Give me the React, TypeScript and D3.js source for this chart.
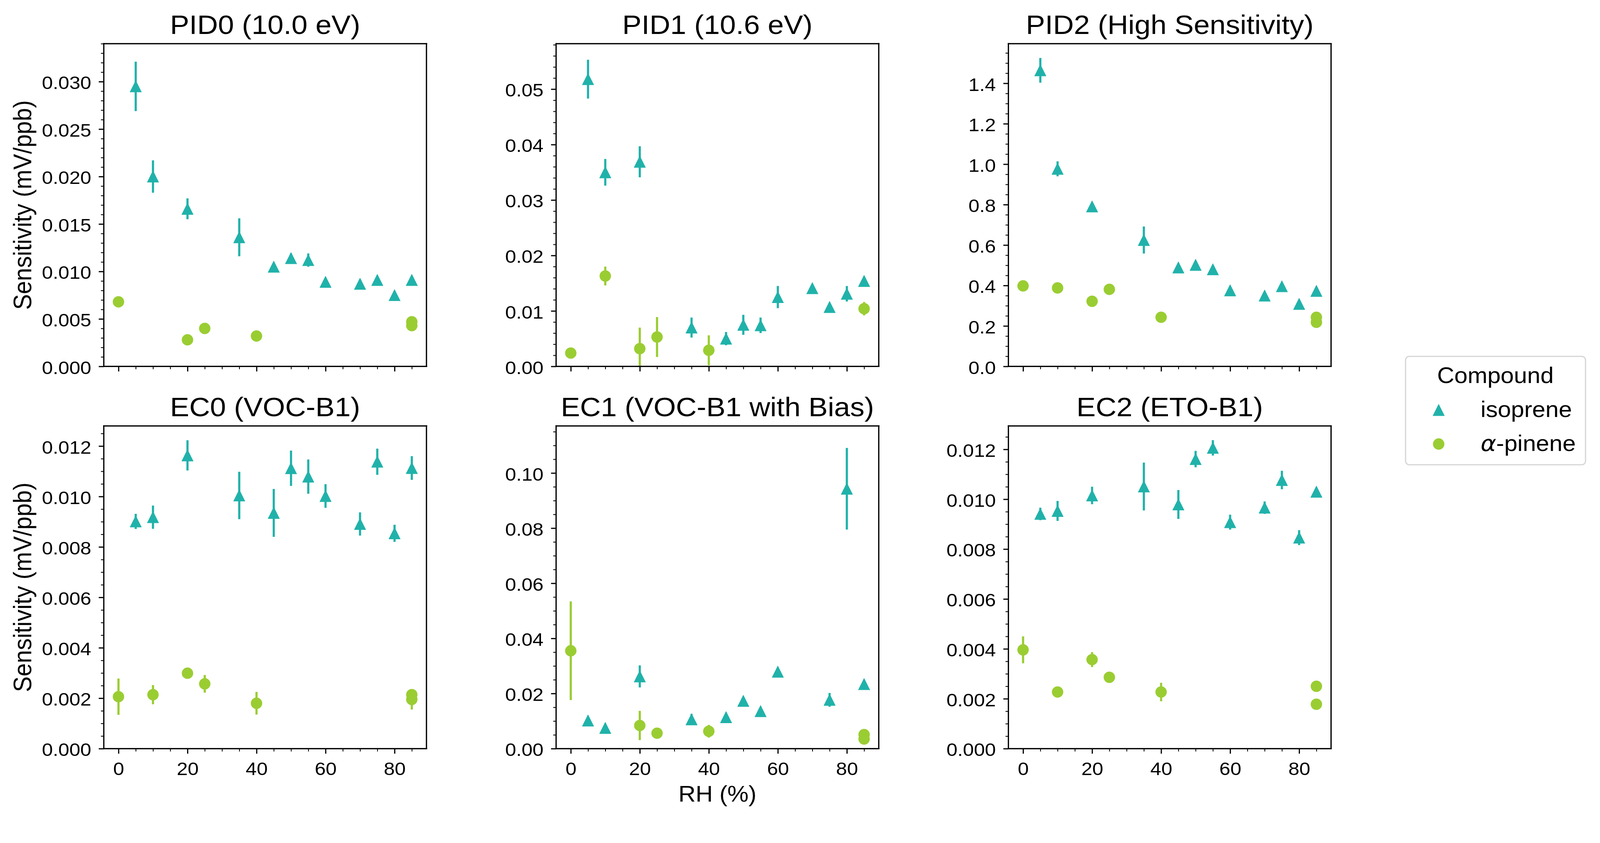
import React, { useEffect, useRef } from 'react';
import * as d3 from 'd3';

// the reference text is a little wider than Liberation Sans, so draw in a
// narrower coordinate space and let the viewBox widen it; marks are corrected back
const SX = 1.08;
const W = 4205;
const H = 2159;

const panelTitles = [
  'PID0 (10.0 eV)',
  'PID1 (10.6 eV)',
  'PID2 (High Sensitivity)',
  'EC0 (VOC-B1)',
  'EC1 (VOC-B1 with Bias)',
  'EC2 (ETO-B1)',
];
const yMax = [0.034, 0.0582, 1.596, 0.0128, 0.1171, 0.01294];
const yStep = [0.005, 0.01, 0.2, 0.002, 0.02, 0.002];
const yMinorDiv = [5, 5, 4, 4, 4, 4];
const yDecimals = [3, 2, 1, 3, 2, 3];
const xTicks = [0, 20, 40, 60, 80];
const xMinor = [5, 10, 15, 25, 30, 35, 45, 50, 55, 65, 70, 75, 85];

// RH (%) of each measurement
const rhIso = [5, 10, 20, 35, 45, 50, 55, 60, 70, 75, 80, 85];
const rhIsoEC1 = [5, 10, 20, 35, 45, 50, 55, 60, 75, 80, 85];
const rhPinPID0 = [0, 20, 25, 40, 85, 85];
const rhPinPID1 = [0, 10, 20, 25, 40, 85];
const rhPin = [0, 10, 20, 25, 40, 85, 85];
const rhPinEC1 = [0, 20, 25, 40, 85, 85];

// isoprene
const pid0Iso = [0.0295, 0.02, 0.0166, 0.0136, 0.0105, 0.0114, 0.0112, 0.0089, 0.0087, 0.0091, 0.0075, 0.0091];
const pid0IsoErr = [0.0026, 0.0017, 0.0011, 0.002, 0.0003, 0.0005, 0.0007, 0.0003, 0.0003, 0.0003, 0.0003, 0.0004];
const pid1Iso = [0.0518, 0.035, 0.0369, 0.007, 0.005, 0.0075, 0.0074, 0.0125, 0.0141, 0.0107, 0.0131, 0.0154];
const pid1IsoErr = [0.0035, 0.0024, 0.0028, 0.0018, 0.0012, 0.0018, 0.0014, 0.002, 0.0004, 0.0006, 0.0014, 0.0004];
const pid2Iso = [1.464, 0.977, 0.791, 0.625, 0.489, 0.502, 0.48, 0.376, 0.35, 0.396, 0.309, 0.373];
const pid2IsoErr = [0.061, 0.037, 0.01, 0.067, 0.01, 0.01, 0.01, 0.01, 0.01, 0.01, 0.01, 0.01];
const ec0Iso = [0.00901, 0.00918, 0.01163, 0.01004, 0.00935, 0.01112, 0.01079, 0.01002, 0.00891, 0.01138, 0.00854, 0.01113];
const ec0IsoErr = [0.0003, 0.00046, 0.0006, 0.00094, 0.00095, 0.0007, 0.00068, 0.00047, 0.00046, 0.00052, 0.00034, 0.00047];
const ec1Iso = [0.0102, 0.0075, 0.0262, 0.0106, 0.0114, 0.0173, 0.0136, 0.0279, 0.0177, 0.0943, 0.0234];
const ec1IsoErr = [0.0008, 0.0005, 0.004, 0.002, 0.0005, 0.0005, 0.0005, 0.0015, 0.0025, 0.0148, 0.0015];
const ec2Iso = [0.00941, 0.00953, 0.01015, 0.01051, 0.00979, 0.01161, 0.01206, 0.00908, 0.00966, 0.01077, 0.00846, 0.0103];
const ec2IsoErr = [0.00025, 0.0004, 0.00035, 0.00096, 0.00058, 0.00033, 0.00031, 0.0003, 0.00025, 0.00037, 0.0003, 0.0001];

// alpha-pinene
const pid0Pin = [0.0068, 0.0028, 0.004, 0.0032, 0.0047, 0.0043];
const pid0PinErr = [0.0002, 0.0002, 0.0002, 0.0002, 0.0002, 0.0002];
const pid1Pin = [0.0024, 0.0163, 0.0032, 0.0053, 0.0029, 0.0104];
const pid1PinErr = [0.0002, 0.0017, 0.0038, 0.0036, 0.0027, 0.0012];
const pid2Pin = [0.398, 0.388, 0.322, 0.381, 0.243, 0.243, 0.218];
const pid2PinErr = [0.01, 0.01, 0.01, 0.01, 0.01, 0.01, 0.01];
const ec0Pin = [0.00206, 0.00214, 0.00299, 0.00257, 0.0018, 0.00214, 0.00195];
const ec0PinErr = [0.00072, 0.00038, 0.0001, 0.00035, 0.00045, 0.0002, 0.0004];
const ec1Pin = [0.0355, 0.0084, 0.0056, 0.0063, 0.0051, 0.0035];
const ec1PinErr = [0.0179, 0.0053, 0.0005, 0.0023, 0.0005, 0.0005];
const ec2Pin = [0.00396, 0.00227, 0.00357, 0.00286, 0.00227, 0.0025, 0.00178];
const ec2PinErr = [0.00054, 0.0001, 0.0003, 0.0001, 0.00037, 0.0001, 0.0002];

const ISO_COLOR = '#20b2aa';
const PIN_COLOR = '#9acd32';

type Series = { x: number[]; y: number[]; e: number[] };
const panels: { iso: Series; pin: Series }[] = [
  { iso: { x: rhIso, y: pid0Iso, e: pid0IsoErr }, pin: { x: rhPinPID0, y: pid0Pin, e: pid0PinErr } },
  { iso: { x: rhIso, y: pid1Iso, e: pid1IsoErr }, pin: { x: rhPinPID1, y: pid1Pin, e: pid1PinErr } },
  { iso: { x: rhIso, y: pid2Iso, e: pid2IsoErr }, pin: { x: rhPin, y: pid2Pin, e: pid2PinErr } },
  { iso: { x: rhIso, y: ec0Iso, e: ec0IsoErr }, pin: { x: rhPin, y: ec0Pin, e: ec0PinErr } },
  { iso: { x: rhIsoEC1, y: ec1Iso, e: ec1IsoErr }, pin: { x: rhPinEC1, y: ec1Pin, e: ec1PinErr } },
  { iso: { x: rhIso, y: ec2Iso, e: ec2IsoErr }, pin: { x: rhPin, y: ec2Pin, e: ec2PinErr } },
];

const FONT = '"Liberation Sans", Arial, Helvetica, sans-serif';
const MS = 30; // marker size in output pixels, both ways
const mw = MS / 2 / SX;
const mh = MS / 2;
const triPath = `M0,${-mh}L${mw},${mh}L${-mw},${mh}Z`;

const App: React.FC = () => {
  const chartRef = useRef<SVGSVGElement | null>(null);

  useEffect(() => {
    if (!chartRef.current) return;
    const svg = d3.select(chartRef.current);
    svg.selectAll('*').remove();

    const pw = 848 / SX;
    const ph = 848.5;
    const lefts = [272.8, 1461.5, 2650.2].map(v => v / SX);
    const tops = [114.8, 1119.8];
    const defs = svg.append('defs');

    panels.forEach((p, i) => {
      const col = i % 3;
      const row = Math.floor(i / 3);
      const g = svg.append('g').attr('transform', `translate(${lefts[col]},${tops[row]})`);

      const x = d3.scaleLinear().domain([-4.25, 89.25]).range([0, pw]);
      const y = d3.scaleLinear().domain([0, yMax[i]]).range([ph, 0]);

      const nMaj = Math.floor(yMax[i] / yStep[i] + 1e-9);
      const yMajor = d3.range(nMaj + 1).map(k => k * yStep[i]);
      const minStep = yStep[i] / yMinorDiv[i];
      const nMin = Math.floor(yMax[i] / minStep + 1e-9);
      const yMinorVals = d3.range(nMin + 1).filter(k => k % yMinorDiv[i] !== 0).map(k => k * minStep);

      const fmt = d3.format(`.${yDecimals[i]}f`);

      // y axis
      g.append('g')
        .call(d3.axisLeft(y).tickValues(yMajor).tickSize(13.3 / SX).tickPadding(30.6 - 13.3 / SX)
          .tickFormat(d => fmt(d as number)))
        .call(a => a.select('.domain').remove())
        .call(a => a.selectAll('line').attr('stroke', '#000').attr('stroke-width', 3.1))
        .call(a => a.selectAll('text').attr('font-size', 48).attr('font-family', FONT).attr('fill', '#000').attr('dy', '0.40em'));
      g.append('g')
        .call(d3.axisLeft(y).tickValues(yMinorVals).tickSize(7.5 / SX).tickFormat(() => ''))
        .call(a => a.select('.domain').remove())
        .call(a => a.selectAll('line').attr('stroke', '#000').attr('stroke-width', 2.2));

      // x axis
      g.append('g')
        .attr('transform', `translate(0,${ph})`)
        .call(d3.axisBottom(x).tickValues(xTicks).tickSize(13.3).tickPadding(21.7)
          .tickFormat(d => (row === 1 ? String(d) : '')))
        .call(a => a.select('.domain').remove())
        .call(a => a.selectAll('line').attr('stroke', '#000').attr('stroke-width', 3.1 / SX))
        .call(a => a.selectAll('text').attr('font-size', 48).attr('font-family', FONT).attr('fill', '#000'));
      g.append('g')
        .attr('transform', `translate(0,${ph})`)
        .call(d3.axisBottom(x).tickValues(xMinor).tickSize(7.5).tickFormat(() => ''))
        .call(a => a.select('.domain').remove())
        .call(a => a.selectAll('line').attr('stroke', '#000').attr('stroke-width', 2.2 / SX));

      // data, clipped to the axes
      defs.append('clipPath').attr('id', `clip${i}`)
        .append('rect').attr('width', pw).attr('height', ph);
      const plot = g.append('g').attr('clip-path', `url(#clip${i})`);

      const drawSeries = (s: Series, color: string, shape: 'tri' | 'dot') => {
        const idx = d3.range(s.x.length);
        plot.append('g').selectAll('line')
          .data(idx).enter().append('line')
          .attr('x1', k => x(s.x[k]))
          .attr('x2', k => x(s.x[k]))
          .attr('y1', k => y(s.y[k] - s.e[k]))
          .attr('y2', k => y(s.y[k] + s.e[k]))
          .attr('stroke', color)
          .attr('stroke-width', 5.7 / SX);
        if (shape === 'tri') {
          plot.append('g').selectAll('path')
            .data(idx).enter().append('path')
            .attr('d', triPath)
            .attr('transform', k => `translate(${x(s.x[k])},${y(s.y[k])})`)
            .attr('fill', color)
            .attr('stroke', color)
            .attr('stroke-width', 1)
            .attr('stroke-linejoin', 'round');
        } else {
          plot.append('g').selectAll('ellipse')
            .data(idx).enter().append('ellipse')
            .attr('cx', k => x(s.x[k]))
            .attr('cy', k => y(s.y[k]))
            .attr('rx', mw)
            .attr('ry', mh)
            .attr('fill', color);
        }
      };
      drawSeries(p.iso, ISO_COLOR, 'tri');
      drawSeries(p.pin, PIN_COLOR, 'dot');

      // frame: vertical spines get thinner strokes to undo the stretch
      const frame = g.append('g').attr('stroke', '#000').attr('stroke-linecap', 'square');
      frame.append('line').attr('x1', 0).attr('x2', pw).attr('y1', 0).attr('y2', 0).attr('stroke-width', 3.3);
      frame.append('line').attr('x1', 0).attr('x2', pw).attr('y1', ph).attr('y2', ph).attr('stroke-width', 3.3);
      frame.append('line').attr('x1', 0).attr('x2', 0).attr('y1', 0).attr('y2', ph).attr('stroke-width', 3.3 / SX);
      frame.append('line').attr('x1', pw).attr('x2', pw).attr('y1', 0).attr('y2', ph).attr('stroke-width', 3.3 / SX);

      // title
      g.append('text')
        .attr('x', pw / 2)
        .attr('y', -25.5)
        .attr('text-anchor', 'middle')
        .attr('font-family', FONT)
        .attr('font-size', 70)
        .text(panelTitles[i]);

      if (col === 0) {
        svg.append('text')
          .attr('transform', `translate(${82 / SX},${tops[row] + ph / 2}) rotate(-90)`)
          .attr('text-anchor', 'middle')
          .attr('font-family', FONT)
          .attr('font-size', 62)
          .text('Sensitivity (mV/ppb)');
      }
      if (row === 1 && col === 1) {
        g.append('text')
          .attr('x', pw / 2)
          .attr('y', 2108 - tops[row])
          .attr('text-anchor', 'middle')
          .attr('font-family', FONT)
          .attr('font-size', 58)
          .text('RH (%)');
      }
    });

    // legend
    const lg = svg.append('g');
    lg.append('rect')
      .attr('x', 3694 / SX)
      .attr('y', 937)
      .attr('width', (4167 - 3694) / SX)
      .attr('height', 1222 - 937)
      .attr('rx', 10 / SX)
      .attr('ry', 10)
      .attr('fill', '#fff')
      .attr('stroke', '#d6d6d6')
      .attr('stroke-width', 3);
    lg.append('text')
      .attr('x', 3930 / SX)
      .attr('y', 1007)
      .attr('text-anchor', 'middle')
      .attr('font-family', FONT)
      .attr('font-size', 58)
      .text('Compound');
    lg.append('path')
      .attr('d', triPath)
      .attr('transform', `translate(${3781 / SX},1078)`)
      .attr('fill', ISO_COLOR)
      .attr('stroke', ISO_COLOR)
      .attr('stroke-width', 1)
      .attr('stroke-linejoin', 'round');
    lg.append('ellipse')
      .attr('cx', 3781 / SX)
      .attr('cy', 1167.5)
      .attr('rx', mw)
      .attr('ry', mh)
      .attr('fill', PIN_COLOR);
    lg.append('text')
      .attr('x', 3891 / SX)
      .attr('y', 1096)
      .attr('font-family', FONT)
      .attr('font-size', 58)
      .text('isoprene');
    const t2 = lg.append('text')
      .attr('x', 3891 / SX)
      .attr('y', 1186)
      .attr('font-family', FONT)
      .attr('font-size', 58);
    t2.append('tspan')
      .attr('font-family', '"DejaVu Sans", sans-serif')
      .attr('font-style', 'italic')
      .text('α');
    t2.append('tspan').text('-pinene');
  }, []);

  // span the viewport width and keep the reference's aspect ratio
  return (
    <svg
      ref={chartRef}
      viewBox={`0 0 ${W / SX} ${H}`}
      preserveAspectRatio="none"
      style={{
        position: 'fixed',
        left: 0,
        top: 0,
        width: '100vw',
        height: `calc(100vw * ${H / W})`,
        display: 'block',
        background: '#fff',
      }}
    />
  );
};

export default App;
